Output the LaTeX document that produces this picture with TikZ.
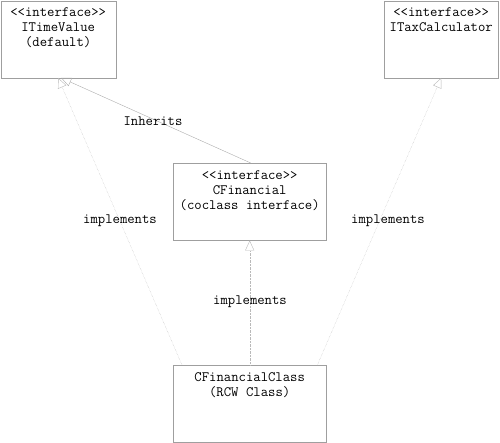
\documentclass[tikz,border=0pt]{standalone}
\usetikzlibrary{arrows.meta}

\newcommand{\umlfont}{\ttfamily\fontsize{14.3}{15}\selectfont}
\newcommand{\tsp}{\hspace{0.525em}}

\tikzset{
  umlbox/.style={draw=gray!75, anchor=north west, inner xsep=0pt, inner ysep=6pt,
    align=center, text height=10pt, text depth=55pt, font=\umlfont},
  realizes/.style={draw=gray!55, densely dotted, -{Triangle[open, length=10pt, width=9pt]}},
  inherits/.style={draw=gray!65, -{Triangle[open, length=10pt, width=9pt]}},
  edgelabel/.style={font=\umlfont}
}

\begin{document}
\begin{tikzpicture}[x=1pt, y=-1pt]
    \useasboundingbox (0,0) rectangle (500,442);

    % Interfaces
    \node[umlbox, text width=115pt] (itimevalue) at (0.5,0.5)
        {<<interface>>\\ITimeValue\\(default)};
    \node[umlbox, text width=114pt] (itaxcalc) at (384,0.5)
        {<<interface>>\\ITaxCalculator};
    \node[umlbox, text width=153pt] (cfinancial) at (173,163)
        {<<interface>>\\CFinancial\\(coclass\tsp interface)};

    % Class
    \node[umlbox, text width=153pt] (cfclass) at (173,365)
        {CFinancialClass\\(RCW\tsp Class)};

    % Connectors
    \draw[inherits] ([xshift=1pt]cfinancial.north) -- ([xshift=3pt]itimevalue.south);
    \draw[realizes] ([xshift=9pt]cfclass.north west) -- ([xshift=0pt]itimevalue.south);
    \draw[realizes] ([xshift=-9pt]cfclass.north east) -- (itaxcalc.south);
    \draw[realizes] (cfclass.north) -- (cfinancial.south);

    % Labels
    \node[edgelabel] (lblinherits) at (153,121) {Inherits};
    \node[edgelabel] (lblleft) at (120,221) {implements};
    \node[edgelabel] (lblright) at (388,221) {implements};
    \node[edgelabel] (lblmid) at (250,302) {implements};
\end{tikzpicture}
\end{document}
